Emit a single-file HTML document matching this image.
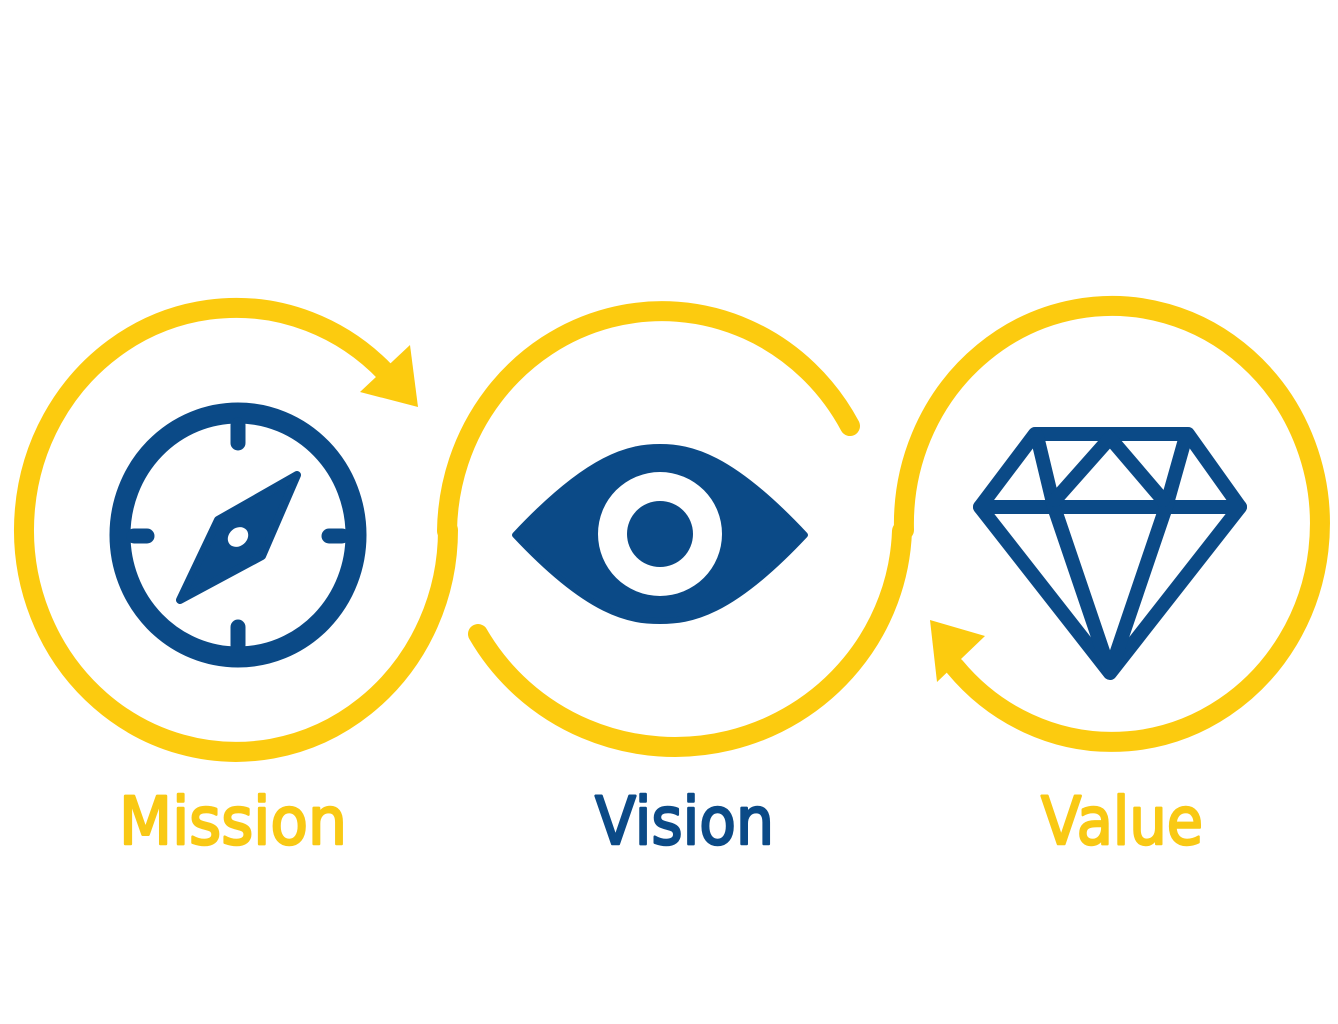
<!DOCTYPE html>
<html><head><meta charset="utf-8"><style>
html,body{margin:0;padding:0;background:#fff;}
svg{display:block}
</style></head><body>
<svg width="1338" height="1024" viewBox="0 0 1338 1024" xmlns="http://www.w3.org/2000/svg">
<g fill="none" stroke="#FCCB0F" stroke-width="20" stroke-linecap="round">
  <path d="M 448 530 A 212 222 0 1 1 386 373"/>
  <path d="M 447 531 A 215 223 0 0 1 850 426"/>
  <path d="M 478 634 A 227 224 0 0 0 902 531"/>
  <path d="M 904 530 A 208 218 0 1 1 955 667"/>
</g>
<g fill="#FCCB0F">
  <polygon points="410,345 418,407 360,392"/>
  <polygon points="930,620 985,636 937,682"/>
</g>
<g fill="none" stroke="#0B4A87">
  <ellipse cx="238" cy="535" rx="118" ry="122" stroke-width="21"/>
  <g stroke-width="15" stroke-linecap="round">
    <line x1="238" y1="425" x2="238" y2="443"/>
    <line x1="238" y1="627" x2="238" y2="645"/>
    <line x1="134" y1="536" x2="147" y2="536"/>
    <line x1="329" y1="536" x2="342" y2="536"/>
  </g>
</g>
<polygon points="297,475 262,556 180,600 218,520" fill="#0B4A87" stroke="#0B4A87" stroke-width="8" stroke-linejoin="round"/>
<ellipse cx="238" cy="537" rx="11" ry="9" transform="rotate(-40 238 537)" fill="#fff"/>
<path d="M 515 535 C 590 455 630 447 660 447 C 690 447 730 455 805 535 C 730 615 690 621 660 621 C 630 621 590 615 515 535 Z" fill="#0B4A87" stroke="#0B4A87" stroke-width="6" stroke-linejoin="round"/>
<circle cx="660" cy="534" r="62" fill="#fff"/>
<circle cx="660" cy="534" r="33" fill="#0B4A87"/>
<g fill="none" stroke="#0B4A87" stroke-width="14" stroke-linejoin="round" stroke-linecap="round">
  <polygon points="1035,434 1188,434 1240,507 1110,673 980,507"/>
  <line x1="980" y1="507" x2="1240" y2="507"/>
  <polyline points="1037,436 1054,507 1110,672 1166,507 1186,436"/>
  <polyline points="1055,500 1110,438 1163,500"/>
</g>
<g font-family="'DejaVu Sans', sans-serif" font-size="66" stroke-width="2.5" stroke-linejoin="round">
  <text x="119" y="844" fill="#F9C914" stroke="#F9C914" textLength="228" lengthAdjust="spacingAndGlyphs">Mission</text>
  <text x="595" y="844" fill="#0B4A87" stroke="#0B4A87" textLength="179" lengthAdjust="spacingAndGlyphs">Vision</text>
  <text x="1041" y="844" fill="#F9C914" stroke="#F9C914" textLength="162" lengthAdjust="spacingAndGlyphs">Value</text>
</g>
</svg>
</body></html>
